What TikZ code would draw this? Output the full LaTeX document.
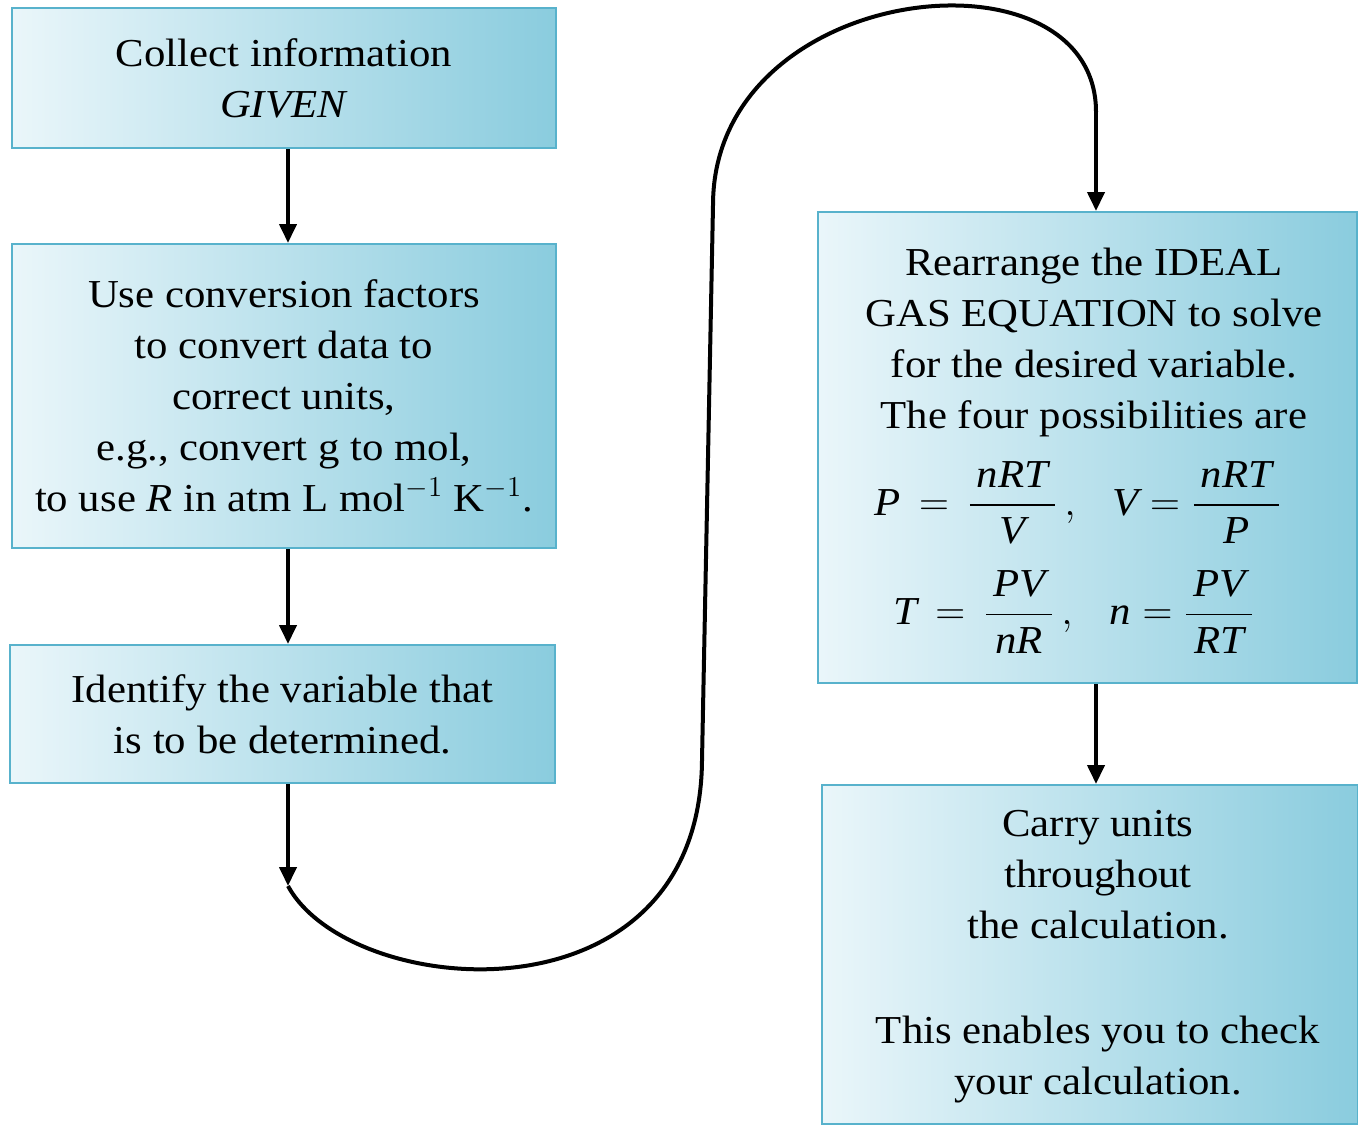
\documentclass[tikz,border=0pt]{standalone}
\usepackage{amsmath}
\usepackage{fontspec}
\setmainfont{Liberation Serif}[FakeStretch=1.08]
\usetikzlibrary{arrows.meta,calc}
\definecolor{boxL}{RGB}{234,246,250}
\definecolor{boxR}{RGB}{138,204,222}
\definecolor{boxB}{RGB}{88,178,204}
\tikzset{
  box/.style={draw=boxB, line width=1pt, left color=boxL, right color=boxR,
    align=center, inner sep=0pt, font=\fontsize{19.8}{25.5}\selectfont},
  txt/.style={align=center, inner sep=0pt, font=\fontsize{19.8}{25.5}\selectfont},
  arr/.style={line width=2pt, -{Triangle[length=9.5pt,width=8.5pt]}},
  link/.style={line width=2pt}
}
\begin{document}
\begin{tikzpicture}[x=0.5pt,y=-0.5pt]
\useasboundingbox (0,0) rectangle (1358,1124);
% boxes
\node[box, minimum width=272pt, minimum height=70pt] (b1) at (284,78)
  {Collect information\\\textit{GIVEN}};
\node[box, minimum width=272pt, minimum height=152pt] (b2) at (284,396)
  {Use conversion factors\\to convert data to\\correct units,\\e.g., convert g to mol,\\to use \textit{R} in atm L mol$^{-1}$ K$^{-1}$.};
\node[box, minimum width=272.5pt, minimum height=69pt] (b3) at (282.5,714)
  {Identify the variable that\\is to be determined.};
\node[box, minimum width=269.5pt, minimum height=235.5pt] (b4) at (1087.5,447.5) {};
\node[txt] (t4) at (1094,342)
  {Rearrange the IDEAL\\GAS EQUATION to solve\\for the desired variable.\\The four possibilities are};
\node[txt] (eq1) at (1078,503)
  {$\textit{P} \,=\, \dfrac{\,\textit{nRT}\,}{\textit{V}}\,,\hspace{15pt}\textit{V} = \dfrac{\,\textit{nRT}\,}{\textit{P}}$};
\node[txt] (eq2) at (1074,612)
  {$\textit{T} \,=\, \dfrac{\,\textit{PV}\,}{\textit{nR}}\,,\hspace{15pt}\textit{n} = \dfrac{\,\textit{PV}\,}{\textit{RT}}$};
\node[box, minimum width=268pt, minimum height=169.5pt] (b5) at (1090,954.5) {};
\node[txt] (t5) at (1098,957)
  {Carry units\\throughout\\the calculation.\\[27pt]This enables you to check\\your calculation.};
% connectors
\coordinate (c1) at (288,886);
\coordinate (c2) at (702,760);
\coordinate (c3) at (713,205);
\coordinate (c4) at (1096,112);
\draw[arr] ([xshift=2pt]b1.south) -- ([xshift=2pt]b1.south |- b2.north);
\draw[arr] ([xshift=2pt]b2.south) -- ([xshift=2pt]b2.south |- b3.north);
\draw[arr] (b3.south -| c1) -- (c1);
\draw[link] (c1) .. controls (350,1000) and (700,1030) .. (c2) -- (c3)
  .. controls (713,-20) and (1096,-60) .. (c4);
\draw[arr] (c4) -- (c4 |- b4.north);
\draw[arr] ([xshift=4.25pt]b4.south) -- ([xshift=4.25pt]b4.south |- b5.north);
\end{tikzpicture}
\end{document}
